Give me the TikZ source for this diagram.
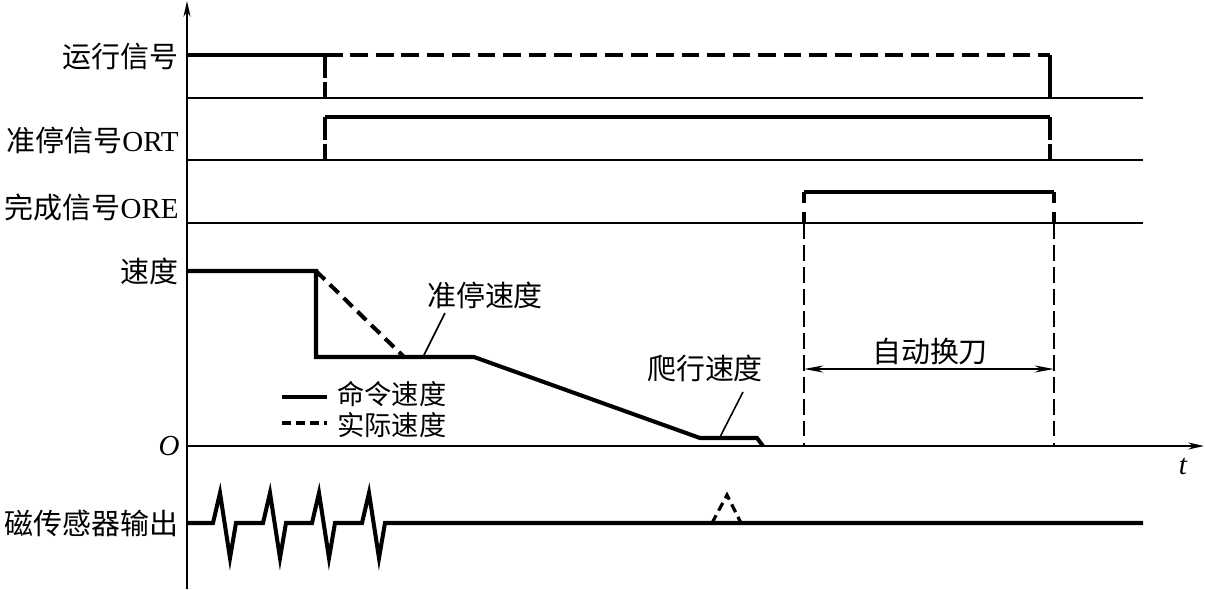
\documentclass[tikz,border=0pt]{standalone}
\usepackage{fontspec}
\setmainfont{Liberation Serif}
\newfontfamily\cjk{Noto Sans CJK SC}
\usepackage{tikz}
\usetikzlibrary{arrows.meta}
\tikzset{
  thinline/.style={line width=0.9pt},
  sigline/.style={line width=2.3pt},
  sigdash/.style={sigline, dash pattern=on 10pt off 4.5pt},
  stepdash/.style={sigline, dash pattern=on 13pt off 2.5pt},
  guide/.style={thinline, dash pattern=on 9pt off 3.5pt},
  lbl/.style={font=\fontsize{16.5}{18}\selectfont\cjk, inner sep=0pt},
  axtip/.style={-{Stealth[length=9pt, width=4pt]}},
}

\begin{document}
\begin{tikzpicture}[x=0.02cm, y=-0.02cm]
  \useasboundingbox (0,0) rectangle (1205,589);
  % --- axes --------------------------------------------------------
  \draw[thinline, axtip] (187,589) -- (187,1);
  \draw[thinline, axtip] (187,446) -- (1204,446);
  \node[lbl, anchor=east] (origin) at (180,446) {\rmfamily\itshape O};
  \node[lbl] (tlabel) at (1183,466) {\rmfamily\itshape t};
  % --- row labels --------------------------------------------------
  \node[lbl, anchor=east] (runlbl)   at (179,57)  {运行信号};
  \node[lbl, anchor=east] (ortlbl)   at (179,140) {准停信号\textrm{ORT}};
  \node[lbl, anchor=east] (orelbl)   at (179,207) {完成信号\textrm{ORE}};
  \node[lbl, anchor=east] (spdlbl)   at (179,271) {速度};
  \node[lbl, anchor=east] (senslbl)  at (179,523) {磁传感器输出};
  % row base lines
  \draw[thinline] (187,98)  -- (1143,98);
  \draw[thinline] (187,160) -- (1143,160);
  \draw[thinline] (187,223) -- (1143,223);
  % --- run signal --------------------------------------------------
  \draw[sigline] (187,55) -- (325,55);
  \draw[sigdash] (325,55) -- (1050,55);
  \draw[stepdash] (325,55) -- (325,98);
  \draw[sigline] (1050,55) -- (1050,98);
  % --- orientation signal ORT --------------------------------------
  \draw[sigline] (325,117) -- (1050,117);
  \draw[stepdash] (325,117) -- (325,160);
  \draw[stepdash] (1050,117) -- (1050,160);
  % --- completion signal ORE ---------------------------------------
  \draw[sigline] (804,192) -- (1054,192);
  \draw[sigline, dash pattern=on 6.5pt off 5pt] (804,192) -- (804,223);
  \draw[sigline, dash pattern=on 6.5pt off 5pt] (1054,192) -- (1054,223);
  \draw[guide] (804,223) -- (804,446);
  \draw[guide] (1054,223) -- (1054,446);
  % --- speed -------------------------------------------------------
  \draw[sigline] (187,271) -- (316,271) -- (316,357) -- (474,357)
    -- (700,438) -- (757,438) -- (763,446);
  \draw[sigline, dash pattern=on 7pt off 4pt] (316,271) -- (404,357);
  \node[lbl] (stoplbl) at (485,295) {准停速度};
  \coordinate (stoptip) at (423,357);
  \draw[thinline] (445,313) -- (stoptip);
  \node[lbl] (crawllbl) at (705,368) {爬行速度};
  \coordinate (crawltip) at (720,437);
  \draw[thinline] (743,392) -- (crawltip);
  % legend
  \draw[sigline] (282,397) -- (327,397);
  \node[lbl, anchor=west, font=\fontsize{15.5}{17}\selectfont\cjk] (cmdlbl) at (337,394) {命令速度};
  \draw[sigline, dash pattern=on 5pt off 3pt] (282,423) -- (327,423);
  \node[lbl, anchor=west, font=\fontsize{15.5}{17}\selectfont\cjk] (actlbl) at (337,425) {实际速度};
  % --- tool change -------------------------------------------------
  \node[lbl] (toollbl) at (930,352) {自动换刀};
  \draw[thinline, {Stealth[length=11pt, width=4pt]}-{Stealth[length=11pt, width=4pt]}]
    (804,369) -- (1054,369);
  % --- sensor output -----------------------------------------------
  \draw[sigline] (187,523)
    \foreach \p in {220,270,319,369} {
      -- (\p-7,523) -- (\p,493) -- (\p+10,558) -- (\p+16,523)
    } -- (1143,523);
  \draw[line width=1.8pt, dash pattern=on 5pt off 3pt] (712,523) -- (727,495) -- (741,523);
\end{tikzpicture}
\end{document}
